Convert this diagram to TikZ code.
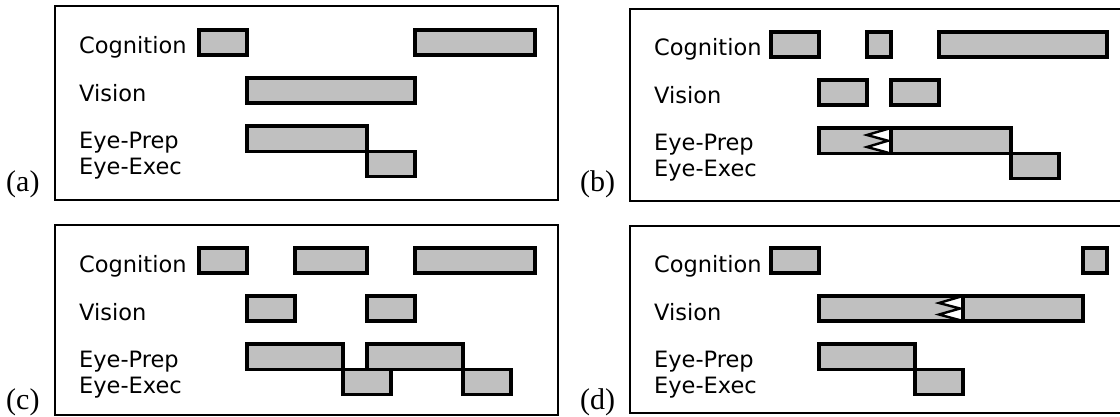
\documentclass[tikz,border=0pt]{standalone}
\usepackage{fontspec}
\setmainfont{Liberation Serif}
\newfontfamily\rowfont{DejaVu Sans}
\definecolor{barfill}{HTML}{C0C0C0}
\newcommand\rowlabels[3]{%
  \node[rowlbl] (#1c) at (#2,#3+24) {Cognition};
  \node[rowlbl] (#1v) at (#2,#3+72) {Vision};
  \node[rowlbl] (#1p) at (#2,#3+119) {Eye-Prep};
  \node[rowlbl] (#1e) at (#2,#3+145) {Eye-Exec};}
% bar: x1, x2, ytop, ybottom
\newcommand\gbr[4]{\draw[gbar] (#1,#3) rectangle (#2,#4);}
% zigzag at x, ytop, ybottom
\newcommand\zigz[3]{%
  \fill[white] (#1,#2+1.5) -- (#1-24,#2+7) -- (#1-3,{(#2+#3)/2}) -- (#1-24,#3-6.5) -- (#1,#3-1.5) -- cycle;
  \draw[zz] (#1-3,#2+0.8) -- (#1-24,#2+7) -- (#1-3,{(#2+#3)/2}) -- (#1-24,#3-6.5) -- (#1-3,#3-0.8);
  \draw[gline] (#1,#2) -- (#1,#3);}
\begin{document}
\begin{tikzpicture}[x=1pt,y=-1pt,
  frame/.style={draw=black,line width=2.7pt},
  gbar/.style={draw=black,fill=barfill,line width=3.1pt},
  gline/.style={draw=black,line width=3.1pt},
  zz/.style={draw=black,line width=2.4pt,line join=miter},
  rowlbl/.style={anchor=base west,inner sep=0pt,font=\rowfont\fontsize{22.5}{27}\selectfont},
  panlbl/.style={anchor=base west,inner sep=0pt,font=\fontsize{30}{36}\selectfont}]
\useasboundingbox (0,0) rectangle (1120,417);
\clip (0,0) rectangle (1120,417);
\fill[white] (0,0) rectangle (1120,417);

% frames
\draw[frame] (55,6) rectangle (558,200);
\draw[frame] (630,9) rectangle (1135,201);
\draw[frame] (55,225) rectangle (558,415);
\draw[frame] (630,226) rectangle (1135,413);

% panel labels
\node[panlbl] (la) at (6,192) {(a)};
\node[panlbl] (lb) at (580,192) {(b)};
\node[panlbl] (lc) at (6,409) {(c)};
\node[panlbl] (ld) at (580,409) {(d)};

% row labels
\rowlabels{a}{79}{30}
\rowlabels{b}{654}{32}
\rowlabels{c}{79}{248}
\rowlabels{d}{654}{248}

% (a)  T=30
\gbr{199}{247}{30}{55}
\gbr{415}{535}{30}{55}
\gbr{247}{415}{78}{103}
\gbr{247}{367}{126}{151.5}
\gbr{367}{415}{151.5}{176.5}

% (b)  T=32
\gbr{771}{819}{32}{57}
\gbr{867}{891}{32}{57}
\gbr{939}{1107}{32}{57}
\gbr{819}{867}{80}{105}
\gbr{891}{939}{80}{105}
\gbr{819}{891}{128}{153.5}
\gbr{891}{1011}{128}{153.5}
\gbr{1011}{1059}{153.5}{178.5}
\zigz{891}{128}{153.5}
\draw[gline] (819,128) -- (1011,128);
\draw[gline] (819,153.5) -- (1011,153.5);

% (c)  T=248
\gbr{199}{247}{248}{273}
\gbr{295}{367}{248}{273}
\gbr{415}{535}{248}{273}
\gbr{247}{295}{296}{321}
\gbr{367}{415}{296}{321}
\gbr{247}{343}{344}{369.5}
\gbr{367}{463}{344}{369.5}
\gbr{343}{391}{369.5}{394.5}
\gbr{463}{511}{369.5}{394.5}

% (d)  T=248
\gbr{771}{819}{248}{273}
\gbr{1083}{1107}{248}{273}
\gbr{819}{963}{296}{321}
\gbr{963}{1083}{296}{321}
\zigz{963}{296}{321}
\draw[gline] (819,296) -- (1083,296);
\draw[gline] (819,321) -- (1083,321);
\gbr{819}{915}{344}{369.5}
\gbr{915}{963}{369.5}{394.5}
\end{tikzpicture}
\end{document}
